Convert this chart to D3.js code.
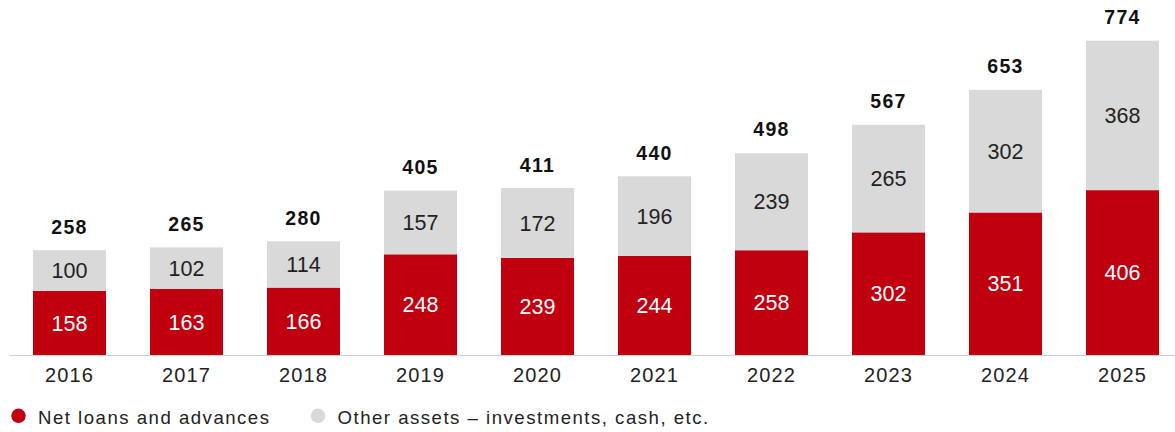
<!DOCTYPE html>
<html>
<head>
<meta charset="utf-8">
<script src="https://cdn.jsdelivr.net/npm/d3@7/dist/d3.min.js"></script>
<style>
  html, body { margin: 0; padding: 0; background: #fff; }
  svg { display: block; font-family: "Liberation Sans", Arial, sans-serif; }
</style>
</head>
<body>
<svg id="chart" width="1175" height="432"></svg>
<script>
// Balance sheet composition by year
const years = ["2016", "2017", "2018", "2019", "2020", "2021", "2022", "2023", "2024", "2025"];
const netLoans = [158, 163, 166, 248, 239, 244, 258, 302, 351, 406];
const otherAssets = [100, 102, 114, 157, 172, 196, 239, 265, 302, 368];
const totals = [258, 265, 280, 405, 411, 440, 498, 567, 653, 774];
const seriesNames = ["Net loans and advances", "Other assets \u2013 investments, cash, etc."];
const seriesColors = ["#c0000f", "#d9d9d9"];

const svg = d3.select("#chart");

const baseY = 355;
const x = d3.scaleBand()
  .domain(years)
  .range([11, 1181])
  .paddingInner(0.376)
  .paddingOuter(0.188);

const y = d3.scaleLinear()
  .domain([0, 774])
  .range([baseY, 40.7]);

const rows = years.map((yr, i) => ({ year: yr, loans: netLoans[i], other: otherAssets[i], total: totals[i] }));
const stacked = d3.stack().keys(["loans", "other"])(rows);

// stacked bars
const layers = svg.append("g").selectAll("g")
  .data(stacked)
  .join("g")
  .attr("fill", (d, i) => seriesColors[i]);

layers.selectAll("rect")
  .data(d => d)
  .join("rect")
  .attr("x", d => x(d.data.year))
  .attr("width", x.bandwidth())
  .attr("y", d => y(d[1]))
  .attr("height", d => y(d[0]) - y(d[1]));

// segment value labels
layers.each(function (layer, li) {
  d3.select(this).selectAll("text")
    .data(layer)
    .join("text")
    .attr("x", d => x(d.data.year) + x.bandwidth() / 2)
    .attr("y", d => (y(d[0]) + y(d[1])) / 2)
    .attr("dy", "0.36em")
    .attr("text-anchor", "middle")
    .attr("font-size", 21.5)
    .attr("fill", li === 0 ? "#ffffff" : "#222222")
    .text(d => d[1] - d[0]);
});

// totals above bars
svg.append("g").selectAll("text")
  .data(rows)
  .join("text")
  .attr("x", d => x(d.year) + x.bandwidth() / 2)
  .attr("y", d => y(d.total) - 16.5)
  .attr("text-anchor", "middle")
  .attr("font-size", 19.5)
  .attr("font-weight", "bold")
  .attr("letter-spacing", 1.3)
  .attr("fill", "#111")
  .text(d => d.total);

// baseline axis with year labels
const axis = svg.append("g")
  .attr("transform", `translate(0,${baseY})`)
  .call(d3.axisBottom(x).tickSize(0).tickPadding(12.5));
axis.select(".domain").attr("stroke", "#cfcfcf").attr("stroke-width", 1.2)
  .attr("d", "M10,0.5H1175");
axis.selectAll("text")
  .attr("font-size", 20)
  .attr("letter-spacing", 1.1)
  .attr("font-family", "Liberation Sans, Arial, sans-serif")
  .attr("fill", "#222");

// legend
const legendItems = [
  { name: seriesNames[0], color: seriesColors[0], cx: 18.5 },
  { name: seriesNames[1], color: seriesColors[1], cx: 318 }
];
const legend = svg.append("g").selectAll("g")
  .data(legendItems)
  .join("g")
  .attr("transform", d => `translate(${d.cx},415.8)`);
legend.append("circle").attr("r", 7.2).attr("fill", d => d.color);
legend.append("text")
  .attr("x", 19.5)
  .attr("y", 1)
  .attr("dy", "0.36em")
  .attr("font-size", 18.6)
  .attr("letter-spacing", 1.5)
  .attr("fill", "#222")
  .text(d => d.name);
</script>
</body>
</html>
